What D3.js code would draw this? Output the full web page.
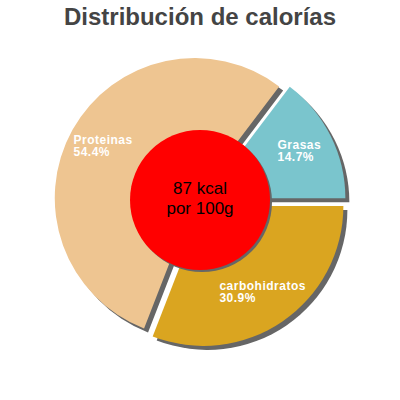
<!DOCTYPE html>
<html>
<head>
<meta charset="utf-8">
<script src="https://cdn.jsdelivr.net/npm/d3@7"></script>
<style>
  html, body { margin: 0; padding: 0; background: #fff; }
  svg { display: block; }
</style>
</head>
<body>
<svg id="chart" width="400" height="400"></svg>
<script>
const title = "Distribución de calorías";
const categories = ["carbohidratos", "Proteinas", "Grasas"];
const percents = [30.9, 54.4, 14.7];
const colors = ["#daa520", "#eec591", "#7ac5cd"];
const centerLines = ["87 kcal", "por 100g"];

const W = 400, H = 400;
const cx = 200, cy = 201;
const R = 140, explode = 6, labelR = 105;
const shadowDx = 4, shadowDy = 4;

const svg = d3.select("#chart");

svg.append("text")
  .attr("x", W / 2).attr("y", 25)
  .attr("text-anchor", "middle")
  .attr("font-family", "Liberation Sans, Arial, sans-serif")
  .attr("font-weight", "bold")
  .attr("font-size", 24)
  .attr("fill", "#444")
  .text(title);

const data = categories.map((c, i) => ({ name: c, value: percents[i], color: colors[i] }));

const pie = d3.pie().sort(null).value(d => d.value)
  .startAngle(Math.PI / 2).endAngle(Math.PI / 2 + 2 * Math.PI);
const arcs = pie(data);

const arc = d3.arc().innerRadius(0).outerRadius(R);
const labelArc = d3.arc().innerRadius(labelR).outerRadius(labelR);

function off(d) {
  const mid = (d.startAngle + d.endAngle) / 2;
  return [Math.sin(mid) * explode, -Math.cos(mid) * explode];
}

const g = svg.append("g").attr("transform", `translate(${cx},${cy})`);

// shadows
g.selectAll("path.shadow").data(arcs).enter().append("path")
  .attr("class", "shadow")
  .attr("d", arc)
  .attr("fill", "#666")
  .attr("transform", d => { const o = off(d); return `translate(${o[0] + shadowDx},${o[1] + shadowDy})`; });

// slices
g.selectAll("path.slice").data(arcs).enter().append("path")
  .attr("class", "slice")
  .attr("d", arc)
  .attr("fill", d => d.data.color)
  .attr("transform", d => { const o = off(d); return `translate(${o[0]},${o[1]})`; });

// labels
arcs.forEach(d => {
  const o = off(d);
  const c = labelArc.centroid(d);
  const x = c[0] + o[0], y = c[1] + o[1];
  const t = g.append("text")
    .attr("font-family", "Liberation Sans, Arial, sans-serif")
    .attr("font-weight", "bold")
    .attr("font-size", 12)
    .attr("letter-spacing", 0.5)
    .attr("fill", "#fff");
  const l1 = t.append("tspan").attr("y", y - 3).text(d.data.name);
  const l2 = t.append("tspan").attr("y", y + 9.5).text(d.data.value.toFixed(1) + "%");
  const w = Math.max(l1.node().getComputedTextLength(), l2.node().getComputedTextLength());
  l1.attr("x", x - w / 2);
  l2.attr("x", x - w / 2);
});

// center circle
svg.append("circle").attr("cx", 202).attr("cy", 202).attr("r", 70).attr("fill", "#666");
svg.append("circle").attr("cx", 200).attr("cy", 200).attr("r", 70).attr("fill", "#ff0000");

centerLines.forEach((s, i) => {
  svg.append("text")
    .attr("text-anchor", "middle")
    .attr("font-family", "Liberation Sans, Arial, sans-serif")
    .attr("font-size", 17)
    .attr("fill", "#000")
    .attr("x", 200).attr("y", 194.2 + i * 19.8)
    .text(s);
});
</script>
</body>
</html>
